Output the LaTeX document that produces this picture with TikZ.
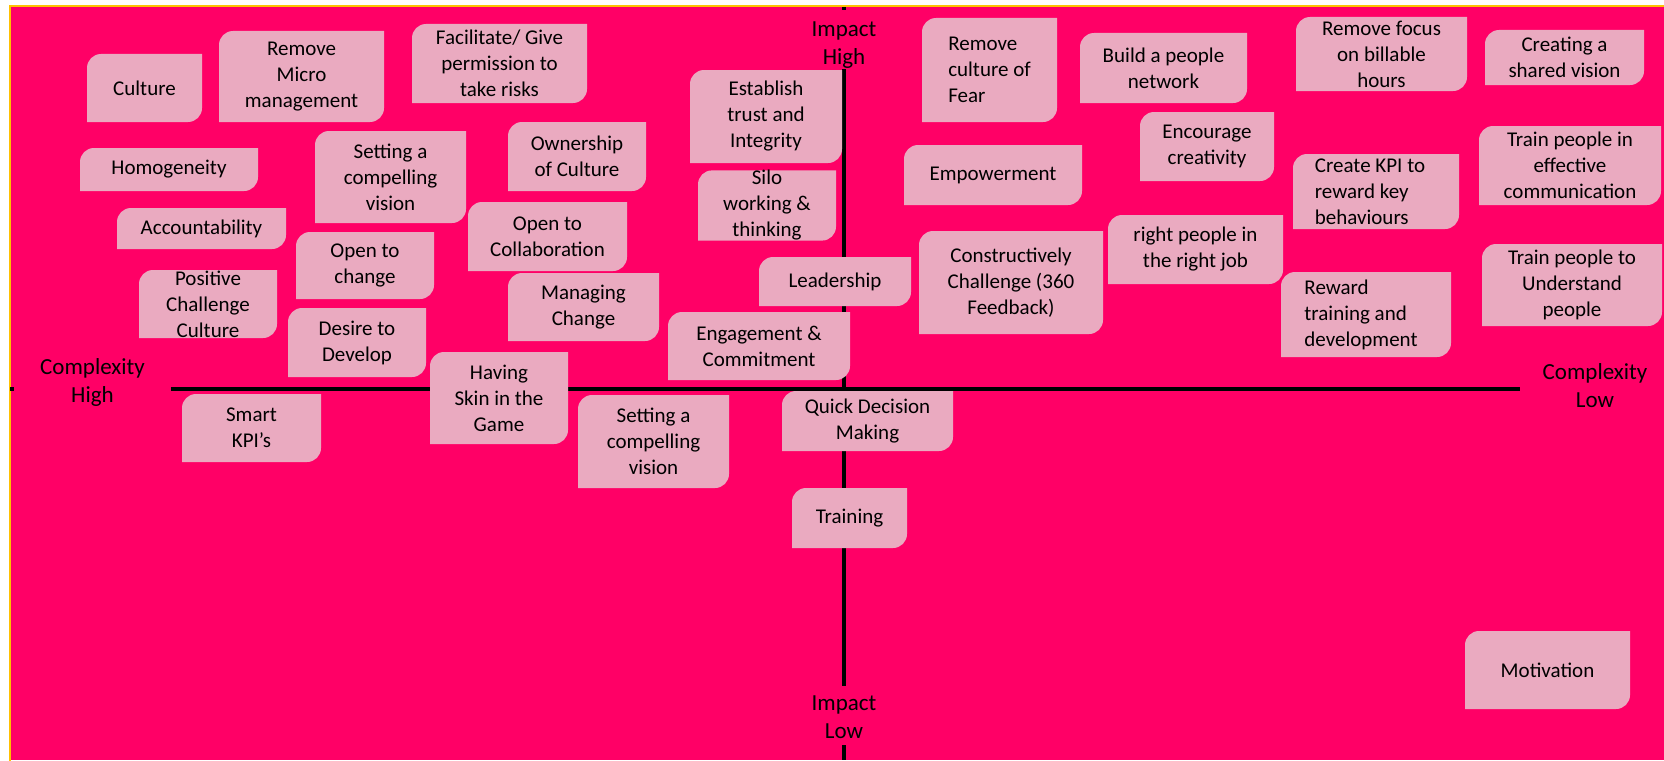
\documentclass[tikz,border=0pt]{standalone}
\usepackage{fontspec}
\setmainfont{Carlito}
\definecolor{boardpink}{RGB}{255,0,102}
\definecolor{notepink}{RGB}{234,170,192}
\definecolor{framegold}{RGB}{255,192,0}
\tikzset{
  note/.style={inner sep=0pt, align=center, text=black,
    font=\fontsize{21}{26}\selectfont,
    path picture={\fill[notepink]
      (path picture bounding box.south west)
      -- ([yshift=-14pt]path picture bounding box.north west)
      arc[start angle=180,end angle=90,radius=14pt]
      -- (path picture bounding box.north east)
      -- ([yshift=14pt]path picture bounding box.south east)
      arc[start angle=0,end angle=-90,radius=14pt]
      -- cycle;}},
  axiscover/.style={fill=boardpink, inner sep=0pt},
  axislabel/.style={inner sep=0pt, align=center, text=black,
    font=\fontsize{23}{28}\selectfont},
  axisline/.style={line width=4.5pt, black}
}
\begin{document}
\begin{tikzpicture}[x=1pt,y=-1pt]
\useasboundingbox (0,0) rectangle (1664,760);
% board
\fill[white] (0,0) rectangle (1664,760);
\fill[boardpink] (10,6) rectangle (1664,760);
\draw[framegold, line width=2pt] (10,761) -- (10,6) -- (1665,6);

% axes
\coordinate (vtop) at (844,7);
\coordinate (vbot) at (844,760);
\coordinate (hleft) at (10,389);
\coordinate (hright) at (1664,389);
\draw[axisline] (vtop) -- (vbot);
\draw[axisline] (hleft) -- (hright);

% gaps in the axes that hold the captions
\node[axiscover, minimum width=80pt, minimum height=59pt] (impacthighgap) at (844,39.5) {};
\node[axiscover, minimum width=80pt, minimum height=59pt] (impactlowgap) at (844,715.5) {};
\node[axiscover, minimum width=157pt, minimum height=60pt] (cxhighgap) at (92.5,380) {};
\node[axiscover, minimum width=150pt, minimum height=60pt] (cxlowgap) at (1595,385.5) {};

% axis captions
\node[axislabel] (impacthigh) at (844,45) {Impact\\High};
\node[axislabel] (impactlow) at (844,717.5) {Impact\\Low};
\node[axislabel] (cxhigh) at (92.5,382) {Complexity\\High};
\node[axislabel] (cxlow) at (1595,385.5) {Complexity\\Low};

% high complexity / high impact
\node[note, minimum width=115pt, minimum height=68pt] (culture) at (144.5,88) {Culture};
\node[note, minimum width=165pt, minimum height=91pt] (micro) at (301.5,76.5) {Remove\\Micro\\management};
\node[note, minimum width=175pt, minimum height=79pt] (facil) at (499.5,63.5) {Facilitate/ Give\\permission to\\take risks};
\node[note, minimum width=178pt, minimum height=43pt] (homog) at (169,169.5) {Homogeneity};
\node[note, minimum width=151pt, minimum height=92pt] (visionA) at (390.5,177) {Setting a\\compelling\\vision};
\node[note, minimum width=138pt, minimum height=69pt] (owner) at (577,156.5) {Ownership\\of Culture};
\node[note, minimum width=152pt, minimum height=93pt] (trust) at (766,116.5) {Establish\\trust and\\Integrity};
\node[note, minimum width=138pt, minimum height=67pt] (silo) at (767,205.5) {Silo\\working \&\\thinking};
\node[note, minimum width=169pt, minimum height=41pt] (account) at (201.5,228.5) {Accountability};
\node[note, minimum width=159pt, minimum height=69pt] (collab) at (547.5,236.5) {Open to\\Collaboration};
\node[note, minimum width=138pt, minimum height=67pt] (openchg) at (365,265.5) {Open to\\change};
\node[note, minimum width=138pt, minimum height=68pt] (positive) at (208,304) {Positive\\Challenge\\Culture};
\node[note, minimum width=151pt, minimum height=68pt] (managing) at (583.5,307) {Managing\\Change};
\node[note, minimum width=152pt, minimum height=49pt] (leader) at (835,281.5) {Leadership};
\node[note, minimum width=138pt, minimum height=69pt] (desire) at (357,342.5) {Desire to\\Develop};
\node[note, minimum width=182pt, minimum height=68pt] (engage) at (759,346) {Engagement \&\\Commitment};
\node[note, minimum width=138pt, minimum height=92pt] (skin) at (499,398) {Having\\Skin in the\\Game};

% high complexity / low impact
\node[note, minimum width=139pt, minimum height=68pt] (smart) at (251.5,428) {Smart\\KPI’s};
\node[note, minimum width=151pt, minimum height=93pt] (visionB) at (653.5,441.5) {Setting a\\compelling\\vision};
\node[note, minimum width=171pt, minimum height=60pt] (quick) at (867.5,421) {Quick Decision\\Making};
\node[note, minimum width=115pt, minimum height=60pt] (training) at (849.5,518) {Training};

% low complexity / high impact
\node[note, minimum width=135pt, minimum height=104pt, align=left] (fear) at (989.5,70) {Remove\\culture of\\Fear};
\node[note, minimum width=167pt, minimum height=70pt] (network) at (1163.5,68) {Build a people\\network};
\node[note, minimum width=134pt, minimum height=69pt] (creativity) at (1207,146.5) {Encourage\\creativity};
\node[note, minimum width=178pt, minimum height=60pt] (empower) at (993,175) {Empowerment};
\node[note, minimum width=184pt, minimum height=103pt] (constr) at (1011,282.5) {Constructively\\Challenge (360\\Feedback)};
\node[note, minimum width=175pt, minimum height=69pt] (rightjob) at (1195.5,249.5) {right people in\\the right job};
\node[note, minimum width=170pt, minimum height=85pt, align=left] (reward) at (1366,314.5) {Reward\\training and\\development\hspace*{10pt}};
\node[note, minimum width=171pt, minimum height=74pt] (billable) at (1381.5,54) {Remove focus\\on billable\\hours};
\node[note, minimum width=159pt, minimum height=55pt] (shared) at (1564.5,57.5) {Creating a\\shared vision};
\node[note, minimum width=182pt, minimum height=79pt] (comm) at (1570,165.5) {Train people in\\effective\\communication};
\node[note, minimum width=166pt, minimum height=75pt, align=left] (kpi) at (1376,191.5) {Create KPI to\hspace*{12pt}\\reward key\\behaviours};
\node[note, minimum width=180pt, minimum height=82pt] (understand) at (1572,285) {Train people to\\Understand\\people};

% low complexity / low impact
\node[note, minimum width=165pt, minimum height=78pt] (motivation) at (1547.5,670) {Motivation};
\end{tikzpicture}
\end{document}
